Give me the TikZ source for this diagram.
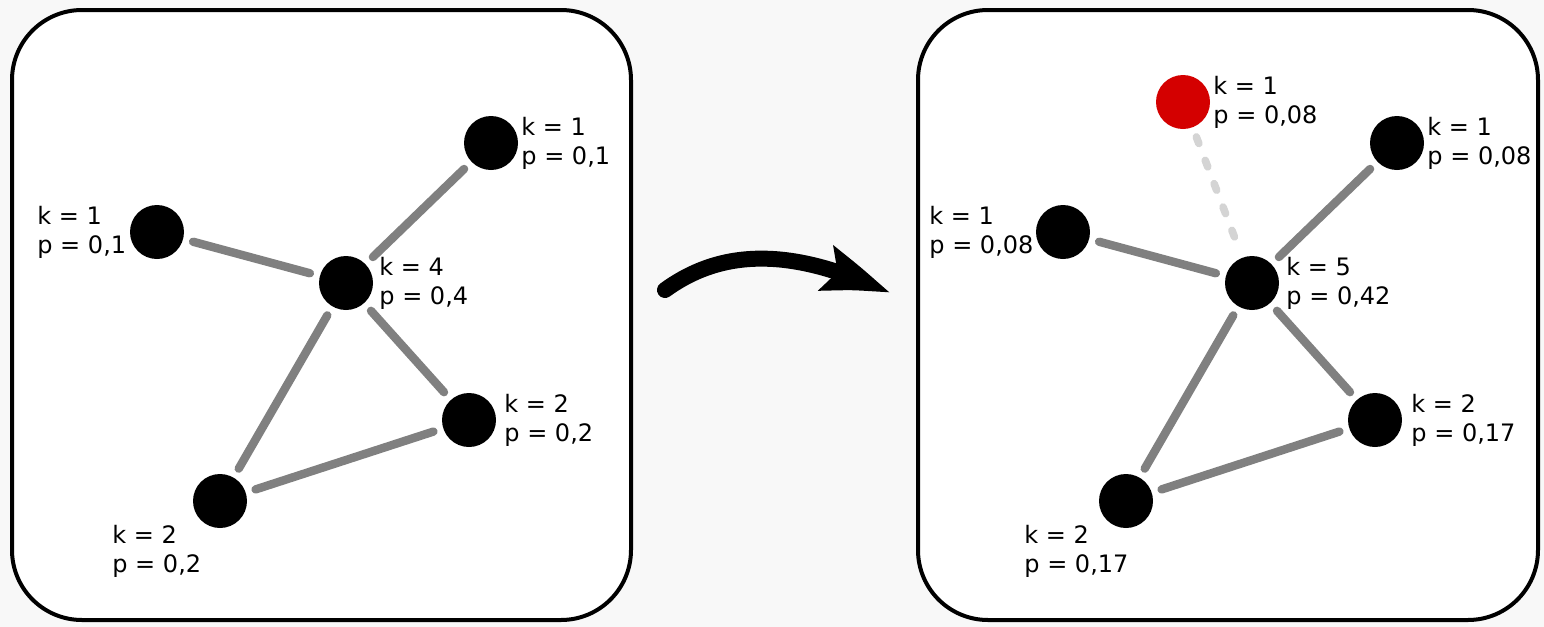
\documentclass[tikz,border=0pt]{standalone}
\usepackage{fontspec}
\setmainfont{DejaVu Sans}
\usetikzlibrary{arrows.meta, bending}
\definecolor{edgegray}{RGB}{128,128,128}
\definecolor{dashgray}{RGB}{212,212,212}
\definecolor{newred}{RGB}{212,0,0}
\definecolor{paper}{RGB}{248,248,248}
\begin{document}
\begin{tikzpicture}[
    x=0.5pt, y=-0.5pt,
    every node/.style={font=\fontsize{12}{14.5}\selectfont},
    frame/.style={draw, line width=2pt, rounded corners=35pt, fill=white},
    vert/.style={circle, fill=black, minimum size=27pt, inner sep=0pt},
    newvert/.style={vert, fill=newred},
    lbl/.style={anchor=west, align=left, inner sep=0pt},
    link/.style={draw=edgegray, line width=4.2pt, line cap=round, shorten <=5pt, shorten >=5pt},
    newlink/.style={link, draw=dashgray, line width=3.8pt, dash pattern=on 3.5pt off 9pt},
  ]
  \useasboundingbox[fill=paper] (0,0) rectangle (1544,627);

  \draw[frame] (12,10) rectangle (631,620);
  \draw[frame] (918,10) rectangle (1538,620);

  % before
  \node[vert] (a) at (491,143) {};
  \node[vert] (b) at (157,232) {};
  \node[vert] (c) at (346,283) {};
  \node[vert] (d) at (469,420) {};
  \node[vert] (e) at (220,501) {};

  \node[lbl] (la) at (521,143) {k = 1 \\ p = 0,1};
  \node[lbl] (lb) at (37,232) {k = 1 \\ p = 0,1};
  \node[lbl] (lc) at (379,283) {k = 4 \\ p = 0,4};
  \node[lbl] (ld) at (504,420) {k = 2 \\ p = 0,2};
  \node[lbl] (le) at (112,551) {k = 2 \\ p = 0,2};

  \foreach \u/\v in {b/c, c/a, c/d, c/e, e/d} \draw[link] (\u) -- (\v);

  % after
  \node[vert] (a2) at (1397,143) {};
  \node[vert] (b2) at (1063,232) {};
  \node[vert] (c2) at (1252,283) {};
  \node[vert] (d2) at (1375,420) {};
  \node[vert] (e2) at (1126,501) {};
  \node[newvert] (n2) at (1183,102) {};

  \node[lbl] (la2) at (1427,143) {k = 1 \\ p = 0,08};
  \node[lbl] (lb2) at (929,232) {k = 1 \\ p = 0,08};
  \node[lbl] (lc2) at (1286,283) {k = 5 \\ p = 0,42};
  \node[lbl] (ld2) at (1411,420) {k = 2 \\ p = 0,17};
  \node[lbl] (le2) at (1024,551) {k = 2 \\ p = 0,17};
  \node[lbl] (ln2) at (1213,102) {k = 1 \\ p = 0,08};

  \foreach \u/\v in {b2/c2, c2/a2, c2/d2, c2/e2, e2/d2} \draw[link] (\u) -- (\v);
  \draw[newlink] (n2) -- (c2);

  % step arrow
  \coordinate (from) at (665,290);
  \coordinate (to) at (891,294);
  \draw[line width=8pt, line cap=round,
    -{Stealth[length=36pt, width=22pt, inset=6pt, bend]}]
    (from) .. controls (720,250) and (790,245) .. (to);
\end{tikzpicture}
\end{document}
